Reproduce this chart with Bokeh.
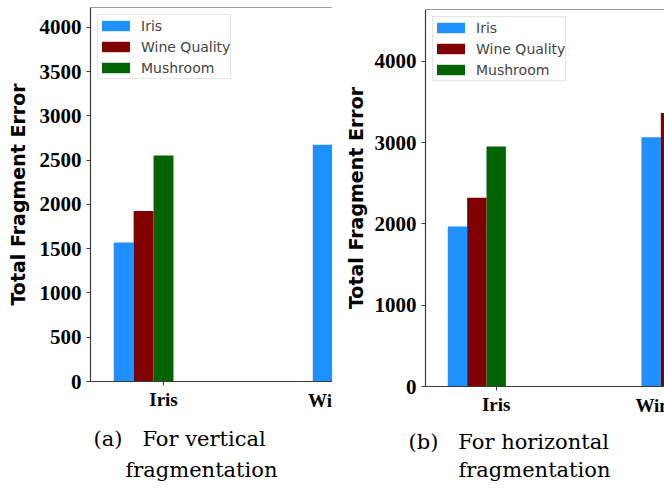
from bokeh.plotting import figure
from bokeh.models import (Range1d, FixedTicker, Span, ColumnDataSource, Title,
                          Label)
from bokeh.transform import dodge
from bokeh.embed import file_html
from bokeh.resources import INLINE

nan = float("nan")
NBSP = "\u00a0"

# dataset groups along the x axis and the three bar series
groups = ["Iris", "Wine Quality"]
series = ["Iris", "Wine Quality", "Mushroom"]
colors = ["#1E90FF", "#800000", "#006400"]

# total fragment error, vertical fragmentation
vert_iris = [1570, 2674]
vert_wine = [1927, 2982]
vert_mush = [2554, nan]

# total fragment error, horizontal fragmentation
horiz_iris = [1967, 3067]
horiz_wine = [2323, 3366]
horiz_mush = [2953, nan]

vert_ticks = [0, 500, 1000, 1500, 2000, 2500, 3000, 3500, 4000]
horiz_ticks = [0, 1000, 2000, 3000, 4000]

BAR_W = 0.1
OFFSETS = [-0.2, -0.1, 0.0]
AXIS_COLOR = "#3a3a3a"
TICK_FONT = dict(text_font="Liberation Serif", text_font_style="bold",
                 text_font_size="19px", text_color="black")


def panel(values, y_end, y_ticks, x_start, x_end, borders, caption):
    left, top, bottom, label_standoff = borders
    p = figure(width=332, height=495, output_backend="svg",
               toolbar_location=None,
               x_range=Range1d(x_start, x_end), y_range=Range1d(0, y_end),
               min_border_left=left, min_border_right=0,
               min_border_top=top, min_border_bottom=bottom)
    p.outline_line_color = None
    p.xgrid.visible = False
    p.ygrid.visible = False

    src = ColumnDataSource(dict(
        pos=list(range(len(groups))), name=groups,
        s0=values[0], s1=values[1], s2=values[2]))
    for i, (s, c) in enumerate(zip(series, colors)):
        p.vbar(x=dodge("pos", OFFSETS[i], range=p.x_range), top="s%d" % i,
               width=BAR_W, source=src, fill_color=c, line_color=None,
               legend_label=s)

    # top spine
    p.add_layout(Span(location=y_end, dimension="width",
                      line_color=AXIS_COLOR, line_width=1.2))

    ya = p.yaxis[0]
    ya.ticker = FixedTicker(ticks=y_ticks)
    ya.minor_tick_line_color = None
    ya.major_tick_in = 0
    ya.major_tick_out = 4
    ya.axis_line_color = AXIS_COLOR
    ya.axis_line_width = 1.2
    ya.major_tick_line_color = AXIS_COLOR
    ya.major_label_standoff = 5
    ya.major_label_text_font = "Liberation Serif"
    ya.major_label_text_font_style = "bold"
    ya.major_label_text_font_size = "21px"
    ya.major_label_text_color = "black"
    ya.axis_label = "Total Fragment Error"
    ya.axis_label_text_font = "DejaVu Sans"
    ya.axis_label_text_font_style = "bold"
    ya.axis_label_text_font_size = "19px"
    ya.axis_label_text_color = "black"
    ya.axis_label_standoff = label_standoff

    xa = p.xaxis[0]
    xa.ticker = FixedTicker(ticks=[0])
    xa.major_label_overrides = {0: groups[0]}
    xa.minor_tick_line_color = None
    xa.major_tick_in = 0
    xa.major_tick_out = 4
    xa.axis_line_color = AXIS_COLOR
    xa.axis_line_width = 1.2
    xa.major_tick_line_color = AXIS_COLOR
    xa.major_label_standoff = 3
    xa.major_label_text_font = TICK_FONT["text_font"]
    xa.major_label_text_font_style = TICK_FONT["text_font_style"]
    xa.major_label_text_font_size = TICK_FONT["text_font_size"]
    xa.major_label_text_color = "black"

    lg = p.legend[0]
    lg.location = "top_left"
    lg.margin = 7
    lg.padding = 0
    lg.spacing = 0
    lg.glyph_width = 35
    lg.glyph_height = 13
    lg.label_height = 21
    lg.label_standoff = 8
    lg.label_text_font = "DejaVu Sans"
    lg.label_text_font_size = "14px"
    lg.border_line_color = "#cccccc"
    lg.border_line_width = 1
    lg.background_fill_alpha = 0.85

    for text, offset, standoff in caption:
        p.add_layout(Title(text=text, align="left", offset=offset,
                           standoff=standoff, text_font="DejaVu Serif",
                           text_font_size="21px", text_font_style="normal",
                           text_color="black"), "below")

    # name of the second group, whose tick lies past the right edge
    p.add_layout(Label(x=1, y=0, y_offset=-19, text=groups[1],
                       text_align="center", text_baseline="alphabetic",
                       **TICK_FONT), "below")
    return p


p1 = panel([vert_iris, vert_wine, vert_mush], 4225, vert_ticks,
           -0.3668, 0.8492, (90, 7, 113, 8),
           [("(a)" + NBSP * 3 + "For vertical", 3, 25),
            ("fragmentation", 35, -15)])
p2 = panel([horiz_iris, horiz_wine, horiz_mush], 4638, horiz_ticks,
           -0.365, 0.869, (93, 9, 108, 5),
           [("(b)" + NBSP * 3 + "For horizontal", -17, 20),
            ("fragmentation", 33, -15)])

# the two panels are independent roots placed side by side
side_by_side = """
{% block postamble %}
<style>
  body { display: flex !important; flex-direction: row; align-items: flex-start; }
</style>
{% endblock %}
"""

open("out.html", "w").write(
    file_html([p1, p2], INLINE, template=side_by_side))
